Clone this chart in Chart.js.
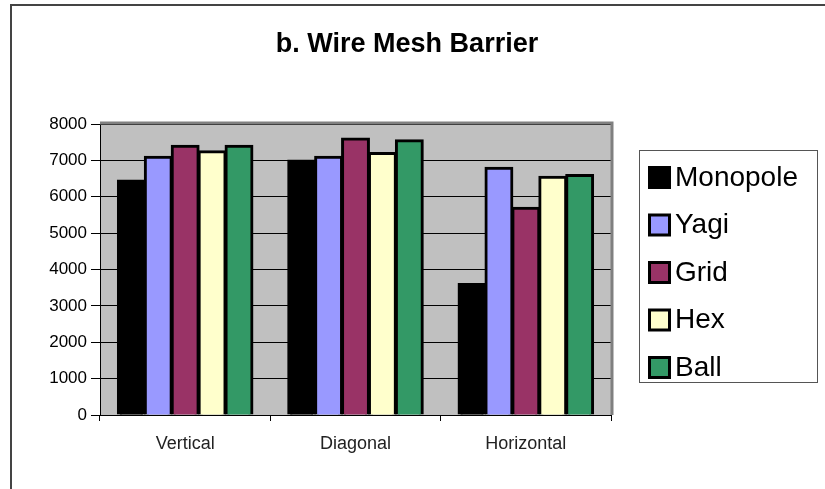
<!DOCTYPE html>
<html>
<head>
<meta charset="utf-8">
<script src="https://cdn.jsdelivr.net/npm/chart.js@4/dist/chart.umd.min.js"></script>
<style>
  body { margin: 0; background: #fff; }
  canvas { display: block; }
</style>
</head>
<body>
<canvas id="myChart" width="825" height="489"></canvas>
<script>
var chartTitle = "b. Wire Mesh Barrier"
var categories = ["Vertical", "Diagonal", "Horizontal"]
var seriesNames = ["Monopole", "Yagi", "Grid", "Hex", "Ball"]
var monopole = [6450, 7000, 3600]
var yagi = [7100, 7100, 6800]
var grid = [7400, 7600, 5700]
var hex = [7250, 7200, 6550]
var ball = [7400, 7550, 6600]
var barColors = ["#000000", "#9999ff", "#993366", "#ffffcc", "#339966"]

var seriesValues = [monopole, yagi, grid, hex, ball]
var datasets = []
for (var i = 0; i < seriesNames.length; i++) {
    datasets.push({
        label: seriesNames[i],
        data: seriesValues[i],
        backgroundColor: barColors[i],
        borderColor: "#000000",
        borderWidth: 3,
        inflateAmount: 1
    })
}

// gray plot area, outer frame, title and the legend box on the right
var excelLook = {
    id: "excelLook",
    beforeDraw: function (chart) {
        var ctx = chart.ctx
        var a = chart.chartArea
        ctx.save()
        ctx.fillStyle = "#ffffff"
        ctx.fillRect(0, 0, chart.width, chart.height)
        ctx.strokeStyle = "#444"
        ctx.lineWidth = 2
        ctx.beginPath()
        ctx.moveTo(11, chart.height)
        ctx.lineTo(11, 5)
        ctx.lineTo(chart.width, 5)
        ctx.stroke()
        ctx.fillStyle = "#c0c0c0"
        ctx.fillRect(a.left, a.top, a.right - a.left, a.bottom - a.top)
        ctx.restore()
    },
    afterDatasetsDraw: function (chart) {
        var ctx = chart.ctx
        var a = chart.chartArea
        ctx.save()
        ctx.strokeStyle = "#808080"
        ctx.lineWidth = 3
        ctx.beginPath()
        ctx.moveTo(a.left, a.top - 1)
        ctx.lineTo(a.right + 1, a.top - 1)
        ctx.lineTo(a.right + 1, a.bottom)
        ctx.stroke()
        ctx.restore()
    },
    afterDraw: function (chart) {
        var ctx = chart.ctx
        ctx.save()
        ctx.fillStyle = "#000"
        ctx.font = "bold 27px 'Liberation Sans', Arial, sans-serif"
        ctx.textAlign = "center"
        ctx.textBaseline = "middle"
        ctx.fillText(chartTitle, 407, 45)

        // legend
        ctx.strokeStyle = "#555"
        ctx.lineWidth = 1
        ctx.strokeRect(639.5, 150.5, 178, 232)
        ctx.font = "28px 'Liberation Sans', Arial, sans-serif"
        ctx.textAlign = "left"
        var ds = chart.data.datasets
        for (var i = 0; i < ds.length; i++) {
            var cy = 177 + i * 47.5
            ctx.fillStyle = "#000"
            ctx.fillRect(648, cy - 11, 23, 23)
            ctx.fillStyle = ds[i].backgroundColor
            ctx.fillRect(651, cy - 8, 17, 17)
            ctx.fillStyle = "#000"
            ctx.fillText(ds[i].label, 675, cy + 1)
        }
        ctx.restore()
    }
}

var chart = new Chart("myChart", {
    type: "bar",
    data: {
        labels: categories,
        datasets: datasets
    },
    options: {
        responsive: false,
        animation: false,
        layout: {padding: {left: 0, right: 214, top: 124, bottom: 0}},
        datasets: {
            bar: {categoryPercentage: 0.79, barPercentage: 1.0}
        },
        plugins: {
            legend: {display: false},
            title: {display: false},
            tooltip: {enabled: false}
        },
        scales: {
            x: {
                afterFit: function (scale) { scale.height = 74 },
                grid: {
                    drawOnChartArea: false,
                    drawTicks: true,
                    tickLength: 6,
                    color: "#000"
                },
                border: {display: true, color: "#000", width: 1},
                ticks: {
                    color: "#222",
                    padding: 12,
                    font: {family: "'Liberation Sans', Arial, sans-serif", size: 18}
                }
            },
            y: {
                min: 0,
                max: 8000,
                afterFit: function (scale) { scale.width = 100 },
                grid: {
                    color: "#000",
                    lineWidth: 1,
                    tickLength: 9
                },
                border: {display: true, color: "#000", width: 1},
                ticks: {
                    stepSize: 1000,
                    color: "#000",
                    padding: 4,
                    callback: function (v) { return String(v) },
                    font: {family: "'Liberation Sans', Arial, sans-serif", size: 17}
                }
            }
        }
    },
    plugins: [excelLook]
})
</script>
</body>
</html>
